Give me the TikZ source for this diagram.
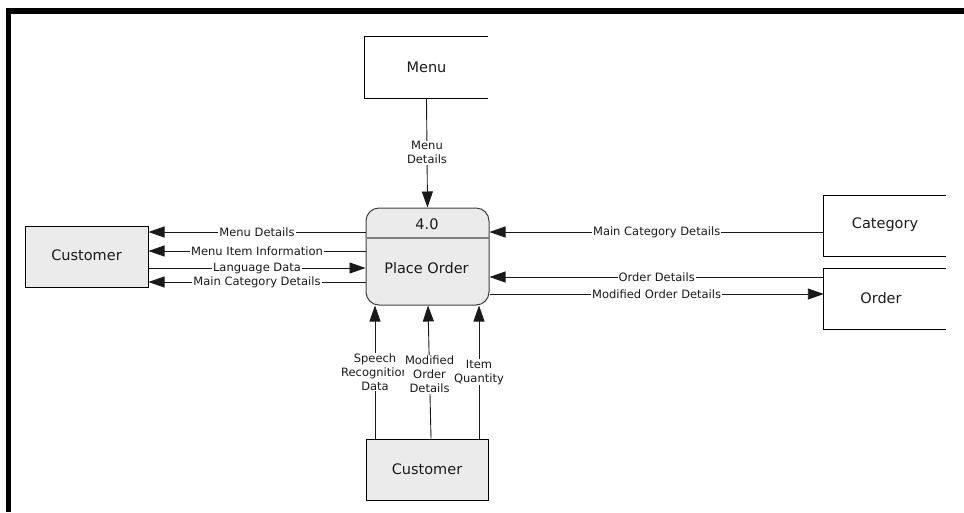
\documentclass[tikz,border=0pt]{standalone}
\usepackage{fontspec}
\setmainfont{DejaVu Sans}
\usetikzlibrary{arrows.meta,calc}
\definecolor{boxfill}{HTML}{EBEBEB}
\definecolor{ink}{HTML}{1A1A1A}
\tikzset{
  boxtext/.style={font=\fontsize{14.5}{17}\selectfont,text=ink},
  entity/.style={draw=black,fill=boxfill,line width=1pt,minimum width=123pt,minimum height=61pt,inner sep=0pt,boxtext},
  store/.style={minimum width=123pt,minimum height=61pt,inner sep=0pt,boxtext},
  storeedge/.style={draw=black,line width=1pt},
  process/.style={draw=black!75,fill=boxfill,line width=1pt,rounded corners=13pt,minimum width=123pt,minimum height=97pt,inner sep=0pt},
  flow/.style={draw=ink,line width=0.9pt,-{Triangle[length=16pt,width=11pt]}},
  lbl/.style={fill=white,inner sep=1pt,font=\fontsize{11.5}{14}\selectfont,text=ink,align=center},
}
\begin{document}
\begin{tikzpicture}[x=1pt,y=-1pt]
\useasboundingbox (0,0) rectangle (964,512);
% page frame
\fill[black] (6,8) rectangle (964,14);
\fill[black] (6,8) rectangle (11,512);

% data stores (open on the right)
\node[store] (menu) at (426.5,67.5) {};
\node[boxtext] (menut) at (426.5,67) {Menu};
\draw[storeedge] (menu.north east) -- (menu.north west) -- (menu.south west) -- (menu.south east);
\node[store,minimum width=122pt,minimum height=60pt] (cat) at (885,226) {};
\node[boxtext] (catt) at (885,225) {Category};
\draw[storeedge] (cat.north east) -- (cat.north west) -- (cat.south west) -- (cat.south east);
\node[store,minimum width=122pt,minimum height=60pt] (ord) at (885,299) {};
\node[boxtext] (ordt) at (881,298) {Order};
\draw[storeedge] (ord.north east) -- (ord.north west) -- (ord.south west) -- (ord.south east);

% external entities
\node[entity] (custL) at (86.5,256.5) {};
\node[boxtext] (custLt) at (86.5,255) {Customer};
\node[entity,minimum width=122pt] (custB) at (427,469.5) {Customer};

% process
\node[process] (proc) at (427.5,256.5) {};
\draw[black!50,line width=2pt] (proc.west |- 0,238) -- (proc.east |- 0,238);
\node[boxtext] (pid) at (427,224) {4.0};
\node[boxtext] (pname) at (426.5,268.5) {Place Order};

% menu to process
\draw[flow] (menu.south) -- node[lbl]{Menu\\Details} (proc.north);

% process <-> left customer
\draw[flow] (proc.west |- 0,232) -- node[lbl]{Menu Details} (custL.east |- 0,232);
\draw[flow] (proc.west |- 0,251) -- node[lbl]{Menu Item Information} (custL.east |- 0,251);
\draw[flow] (custL.east |- 0,268) -- node[lbl]{Language Data} (proc.west |- 0,268);
\draw[flow] (proc.west |- 0,282) -- node[lbl]{Main Category Details} (custL.east |- 0,282);

% process <-> category / order
\draw[flow] (cat.west |- 0,232) -- node[lbl]{Main Category Details} (proc.east |- 0,232);
\draw[flow] (ord.west |- 0,277) -- node[lbl]{Order Details} (proc.east |- 0,277);
\draw[flow] (proc.east |- 0,294) -- node[lbl]{Modified Order Details} (ord.west |- 0,294);

% bottom customer to process
\draw[flow] (custB.north -| 375,0) -- node[lbl]{Speech\\Recognition\\Data} (proc.south -| 375,0);
\draw[flow] (custB.north -| 431,0) -- node[lbl,pos=0.48]{Modified\\Order\\Details} (proc.south -| 428,0);
\draw[flow] (custB.north -| 479,0) -- node[lbl]{Item\\Quantity} (proc.south -| 479,0);
\end{tikzpicture}
\end{document}
